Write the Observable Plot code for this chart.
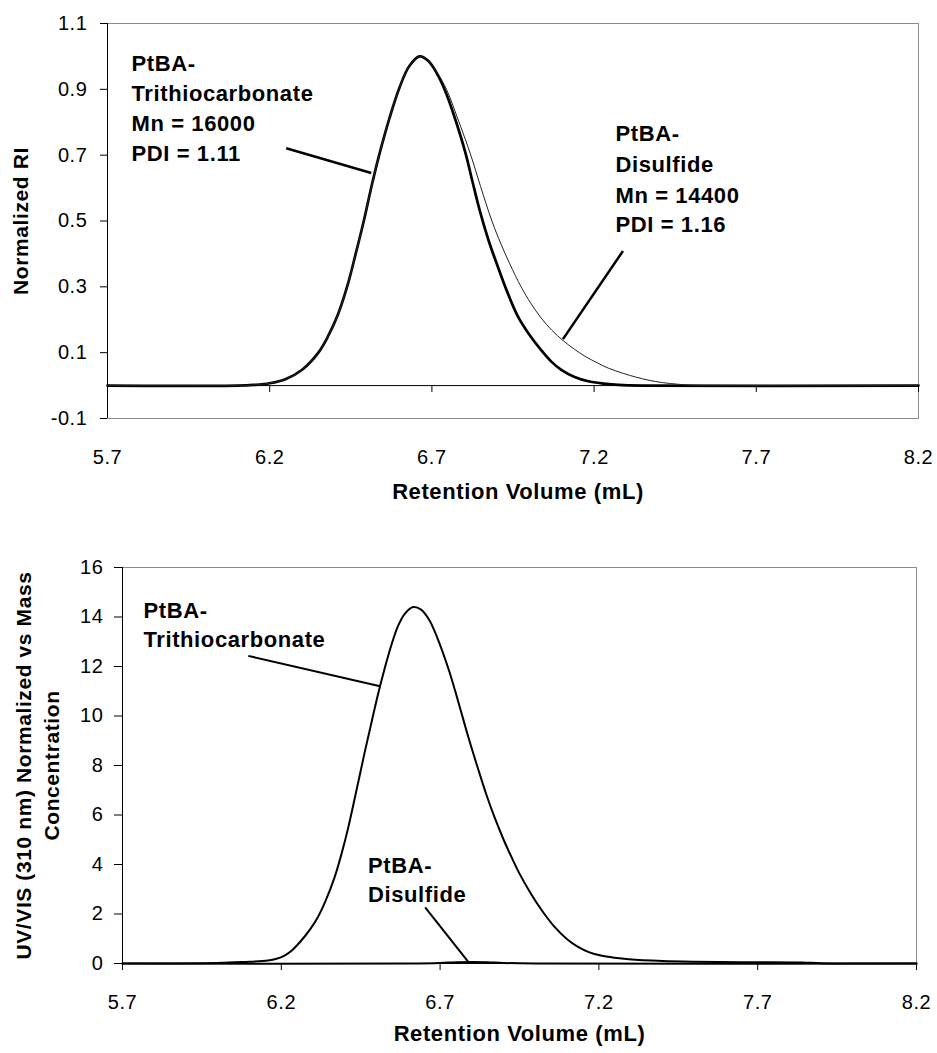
<!DOCTYPE html>
<html><head><meta charset="utf-8">
<script src="https://cdn.jsdelivr.net/npm/d3@7"></script>
<script src="https://cdn.jsdelivr.net/npm/@observablehq/plot@0.6"></script>
<style>
body{margin:0;background:#fff;}
#wrap{position:relative;width:937px;height:1053px;background:#fff;}
#top{position:absolute;left:0;top:0;}
#bottom{position:absolute;left:0;top:520px;}
svg text{letter-spacing:0.6px;}
</style></head><body><div id="wrap"><div id="top"></div><div id="bottom"></div></div>
<script>
// ---- axis ticks ----
const xTicks = [5.7, 6.2, 6.7, 7.2, 7.7, 8.2];
const riTicks = [-0.1, 0.1, 0.3, 0.5, 0.7, 0.9, 1.1];
const uvTicks = [0, 2, 4, 6, 8, 10, 12, 14, 16];

// ---- titles ----
const xTitle = "Retention Volume (mL)";
const riTitle = "Normalized RI";
const uvTitle = "UV/VIS (310 nm) Normalized vs Mass\nConcentration";

// ---- top panel: normalized RI ----
const riTrithioX = [5.7, 6.1, 6.15, 6.2, 6.25, 6.3, 6.35, 6.38, 6.41, 6.44, 6.465, 6.49, 6.515, 6.54, 6.57, 6.6, 6.63, 6.662, 6.69, 6.72, 6.745, 6.775, 6.804, 6.825, 6.848, 6.875, 6.9, 6.93, 6.965, 7.0, 7.035, 7.069, 7.1, 7.14, 7.182, 7.23, 7.276, 7.35, 8.2];
const riTrithioY = [0, 0, 0.002, 0.007, 0.02, 0.048, 0.1, 0.15, 0.215, 0.305, 0.4, 0.5, 0.61, 0.71, 0.815, 0.905, 0.97, 1.0, 0.985, 0.94, 0.885, 0.8, 0.705, 0.62, 0.53, 0.44, 0.37, 0.29, 0.21, 0.155, 0.11, 0.072, 0.047, 0.026, 0.013, 0.006, 0.002, 0, 0];
const riDisulfideX = [5.7, 6.1, 6.15, 6.2, 6.25, 6.3, 6.35, 6.38, 6.41, 6.44, 6.465, 6.49, 6.515, 6.54, 6.57, 6.6, 6.63, 6.662, 6.69, 6.72, 6.745, 6.78, 6.82, 6.85, 6.885, 6.913, 6.94, 6.975, 7.005, 7.037, 7.07, 7.104, 7.14, 7.172, 7.21, 7.244, 7.29, 7.328, 7.37, 7.411, 7.46, 7.5, 7.6, 8.2];
const riDisulfideY = [0, 0, 0.002, 0.007, 0.02, 0.048, 0.1, 0.15, 0.215, 0.305, 0.4, 0.5, 0.61, 0.71, 0.815, 0.905, 0.97, 1.0, 0.985, 0.945, 0.9, 0.81, 0.7, 0.605, 0.5, 0.43, 0.37, 0.3, 0.25, 0.205, 0.168, 0.137, 0.11, 0.089, 0.069, 0.053, 0.037, 0.026, 0.016, 0.009, 0.004, 0.001, 0, 0];

const riLabelText = ["PtBA-", "Trithiocarbonate", "Mn = 16000", "PDI = 1.11", "PtBA-", "Disulfide", "Mn = 14400", "PDI = 1.16"];
const riLabelX = [5.774, 5.774, 5.774, 5.774, 7.266, 7.266, 7.266, 7.266];
const riLabelY = [0.978, 0.887, 0.796, 0.705, 0.763, 0.671, 0.577, 0.488];
const riLeaderX1 = [6.251, 7.289];
const riLeaderY1 = [0.721, 0.409];
const riLeaderX2 = [6.513, 7.104];
const riLeaderY2 = [0.646, 0.141];

// ---- bottom panel: UV/VIS ----
const uvTrithioX = [5.7, 6.0, 6.053, 6.1, 6.158, 6.185, 6.21, 6.235, 6.263, 6.29, 6.315, 6.34, 6.368, 6.39, 6.41, 6.435, 6.462, 6.485, 6.504, 6.525, 6.545, 6.568, 6.59, 6.615, 6.64, 6.665, 6.69, 6.728, 6.756, 6.79, 6.818, 6.845, 6.871, 6.9, 6.923, 6.95, 6.986, 7.02, 7.059, 7.1, 7.133, 7.17, 7.206, 7.25, 7.294, 7.4, 7.5, 7.65, 7.84, 7.9, 8.2];
const uvTrithioY = [0, 0.02, 0.05, 0.07, 0.12, 0.19, 0.32, 0.55, 0.93, 1.37, 1.87, 2.55, 3.49, 4.45, 5.45, 6.9, 8.5, 9.8, 10.85, 11.9, 12.8, 13.65, 14.15, 14.4, 14.3, 13.9, 13.2, 11.84, 10.63, 9.1, 7.93, 6.85, 5.92, 5.0, 4.35, 3.63, 2.82, 2.15, 1.5, 0.98, 0.68, 0.45, 0.32, 0.23, 0.17, 0.1, 0.07, 0.05, 0.04, 0.01, 0];
const uvDisulfideX = [5.7, 6.6, 6.7, 6.75, 6.8, 6.85, 6.9, 7.0, 8.2];
const uvDisulfideY = [0, 0, 0.02, 0.05, 0.06, 0.05, 0.02, 0, 0];

const uvLabelText = ["PtBA-", "Trithiocarbonate", "PtBA-", "Disulfide"];
const uvLabelX = [5.766, 5.766, 6.473, 6.473];
const uvLabelY = [14.24, 13.08, 3.96, 2.75];
const uvLeaderX1 = [6.096, 6.653];
const uvLeaderY1 = [12.43, 2.27];
const uvLeaderX2 = [6.511, 6.79];
const uvLeaderY2 = [11.2, 0.05];

// ---- helpers ----
const FONT = "'Liberation Sans', Arial, Helvetica, sans-serif";
const pts = (xs, ys) => xs.map((x, i) => ({x, y: ys[i]}));
const labels = (t, xs, ys) => t.map((s, i) => ({text: s, x: xs[i], y: ys[i]}));
const leaders = (x1, y1, x2, y2) => x1.map((v, i) => ({x1: v, y1: y1[i], x2: x2[i], y2: y2[i]}));
const fmt1 = d => d.toFixed(1);

function spacing(svg) {
  d3.select(svg).selectAll('g[aria-label="ytitle"] text').style("letter-spacing", "1px");
  d3.select(svg).selectAll('g[aria-label="xtitle"] text').style("letter-spacing", "0.9px");
  return svg;
}

const topChart = Plot.plot({
  width: 937, height: 520,
  marginLeft: 107, marginRight: 19, marginTop: 23, marginBottom: 102,
  x: {domain: [5.7, 8.2]},
  y: {domain: [-0.1, 1.1]},
  style: {fontFamily: FONT, background: "white", color: "black", overflow: "visible"},
  marks: [
    Plot.frame({stroke: "#8c8c8c"}),
    Plot.ruleY([0], {stroke: "black", strokeWidth: 1}),
    Plot.ruleX([5.7], {stroke: "black", strokeWidth: 1}),
    Plot.ruleX(xTicks, {x: d => d, y1: 0, y2: 0, insetTop: 7, stroke: "black"}),
    Plot.axisY({ticks: riTicks, tickSize: 7, tickPadding: 13, tickFormat: fmt1, fontSize: 20, label: null}),
    Plot.axisX({ticks: xTicks, tickSize: 0, tickPadding: 31, tickFormat: fmt1, fontSize: 20, label: null}),
    Plot.line(pts(riTrithioX, riTrithioY), {x: "x", y: "y", stroke: "black", strokeWidth: 2.7, curve: "catmull-rom"}),
    Plot.line(pts(riDisulfideX, riDisulfideY), {x: "x", y: "y", stroke: "#222", strokeWidth: 1, curve: "catmull-rom"}),
    Plot.link(leaders(riLeaderX1, riLeaderY1, riLeaderX2, riLeaderY2), {x1: "x1", y1: "y1", x2: "x2", y2: "y2", stroke: "black", strokeWidth: 2.5}),
    Plot.text(labels(riLabelText, riLabelX, riLabelY), {x: "x", y: "y", text: "text", textAnchor: "start", fontSize: 22, fontWeight: "bold", fill: "black"}),
    Plot.text([riTitle], {frameAnchor: "left", textAnchor: "middle", dx: -86, rotate: -90, fontSize: 21, fontWeight: "bold", fill: "black", ariaLabel: "ytitle"}),
    Plot.text([xTitle], {frameAnchor: "bottom", textAnchor: "middle", dx: 5, dy: 80, fontSize: 22, fontWeight: "bold", fill: "black", ariaLabel: "xtitle"})
  ]
});
document.getElementById("top").appendChild(spacing(topChart));

const bottomChart = Plot.plot({
  width: 937, height: 533,
  marginLeft: 122, marginRight: 21, marginTop: 47, marginBottom: 90,
  x: {domain: [5.7, 8.2]},
  y: {domain: [0, 16]},
  style: {fontFamily: FONT, background: "white", color: "black", overflow: "visible"},
  marks: [
    Plot.frame({stroke: "#8c8c8c"}),
    Plot.ruleY([0], {stroke: "black", strokeWidth: 1}),
    Plot.ruleX([5.7], {stroke: "black", strokeWidth: 1}),
    Plot.ruleX(xTicks, {x: d => d, y1: 0, y2: 0, insetTop: 7, stroke: "black"}),
    Plot.axisY({ticks: uvTicks, tickSize: 8, tickPadding: 11, tickFormat: d => String(d), fontSize: 20, label: null}),
    Plot.axisX({ticks: xTicks, tickSize: 0, tickPadding: 31, tickFormat: fmt1, fontSize: 20, label: null}),
    Plot.line(pts(uvTrithioX, uvTrithioY), {x: "x", y: "y", stroke: "black", strokeWidth: 2, curve: "catmull-rom"}),
    Plot.line(pts(uvDisulfideX, uvDisulfideY), {x: "x", y: "y", stroke: "black", strokeWidth: 2, curve: "catmull-rom"}),
    Plot.link(leaders(uvLeaderX1, uvLeaderY1, uvLeaderX2, uvLeaderY2), {x1: "x1", y1: "y1", x2: "x2", y2: "y2", stroke: "black", strokeWidth: 2}),
    Plot.text(labels(uvLabelText, uvLabelX, uvLabelY), {x: "x", y: "y", text: "text", textAnchor: "start", fontSize: 22, fontWeight: "bold", fill: "black"}),
    Plot.text([uvTitle], {frameAnchor: "left", textAnchor: "middle", dx: -86, rotate: -90, lineHeight: 1.33, fontSize: 21, fontWeight: "bold", fill: "black", ariaLabel: "ytitle"}),
    Plot.text([xTitle], {frameAnchor: "bottom", textAnchor: "middle", dy: 77, fontSize: 22, fontWeight: "bold", fill: "black", ariaLabel: "xtitle"})
  ]
});
document.getElementById("bottom").appendChild(spacing(bottomChart));
</script></body></html>
